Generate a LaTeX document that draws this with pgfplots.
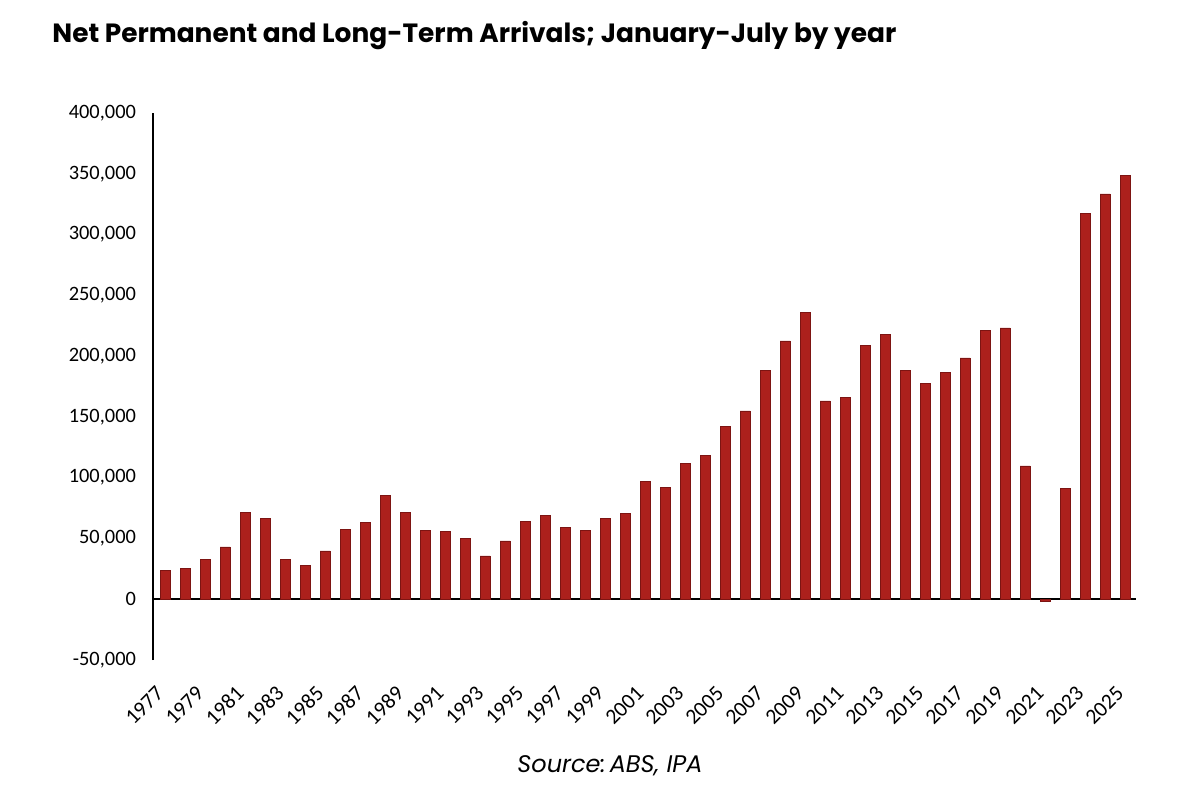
\documentclass[border=0pt]{standalone}
\usepackage{fontspec}
\usepackage{pgfplots}
\pgfplotsset{compat=1.18}
\setmainfont{Carlito}
\newfontfamily\poppins{Poppins}
\definecolor{barred}{RGB}{172,32,28}
\definecolor{baredge}{RGB}{125,20,18}
\begin{document}
\begin{tikzpicture}
\useasboundingbox (0,0) rectangle (600pt,402pt);
\node[anchor=base west, inner sep=0pt] at (26pt,380.5pt) {\poppins\bfseries\fontsize{13.2}{16}\selectfont Net Permanent and Long-Term Arrivals; January-July by year};
\node[anchor=base, inner sep=0pt] at (305pt,16pt) {\poppins\itshape\frenchspacing\fontsize{12}{14}\selectfont Source:\hspace{-1.5pt} ABS, IPA};
\begin{axis}[
  at={(76.5pt,72pt)}, anchor=south west,
  scale only axis, width=491.5pt, height=273.5pt,
  xmin=1976.4, xmax=2025.55, ymin=-50000, ymax=400000,
  axis lines=left, axis line style={-},
  x axis line style={draw=none},
  y axis line style={black, line width=0.8pt},
  major tick length=0pt,
  xtick={1977,1979,...,2025},
  ytick={-50000,0,50000,100000,150000,200000,250000,300000,350000,400000},
  scaled y ticks=false,
  /pgf/number format/assume math mode=true,
  font=\fontsize{10.2}{12}\selectfont,
  x tick label style={/pgf/number format/.cd, 1000 sep={}, /tikz/.cd, font=\fontsize{10.8}{13}\selectfont, xshift=0pt, yshift=-12.5pt, rotate=45, anchor=east},
  y tick label style={/pgf/number format/.cd, fixed, 1000 sep={,}, /tikz/.cd, xshift=-5pt},
  extra y ticks={0}, extra y tick labels={},
  extra y tick style={grid=major, major grid style={black, line width=0.8pt}},
  clip=false,
]
\addplot[ybar, bar width=5pt, fill=barred, draw=baredge, line width=0.3pt] coordinates {
(1977,23900) (1978,25300) (1979,32900) (1980,43100) (1981,71400) (1982,66200)
(1983,32900) (1984,27500) (1985,39800) (1986,57700) (1987,63200) (1988,85400)
(1989,71400) (1990,56600) (1991,56000) (1992,50200) (1993,35700) (1994,48000)
(1995,63700) (1996,69200) (1997,59000) (1998,56800) (1999,66500) (2000,70600)
(2001,97200) (2002,92000) (2003,111800) (2004,118600) (2005,142500) (2006,154900)
(2007,188100) (2008,212500) (2009,236100) (2010,163100) (2011,166100) (2012,209000)
(2013,218000) (2014,188100) (2015,177400) (2016,186400) (2017,198500) (2018,221000)
(2019,223200) (2020,109600) (2021,-1500) (2022,91400) (2023,317700) (2024,333400)
(2025,348700)
};
\end{axis}
\end{tikzpicture}
\end{document}
